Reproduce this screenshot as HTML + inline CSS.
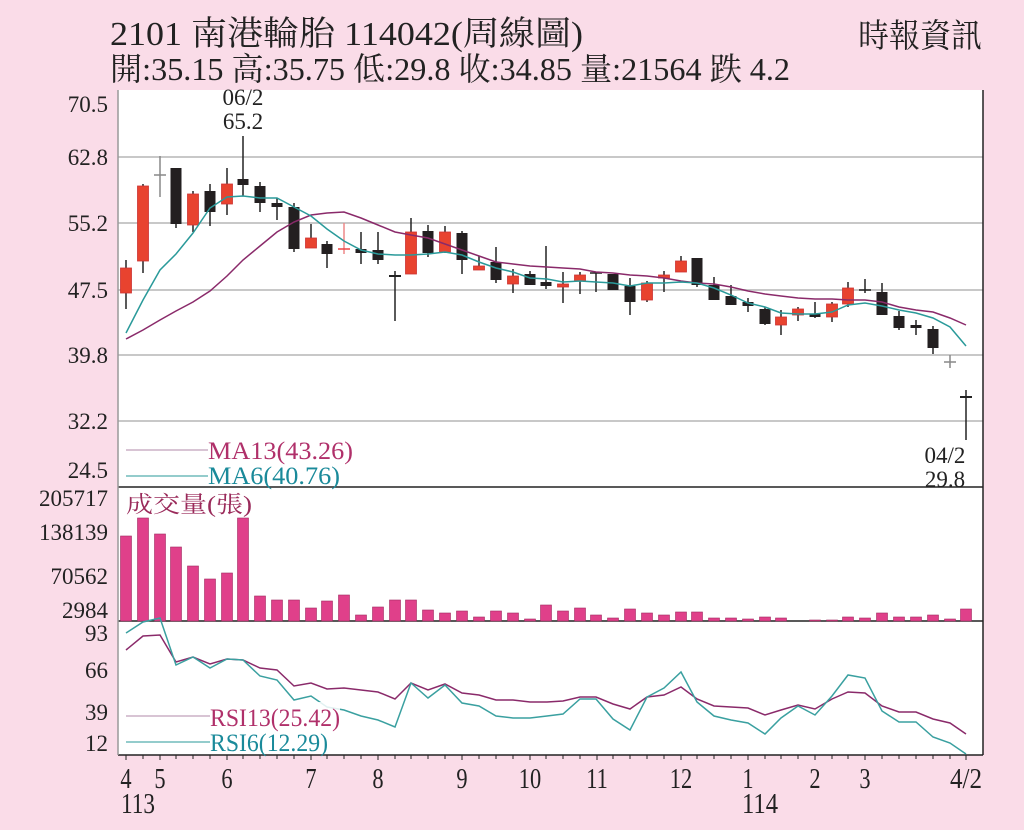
<!DOCTYPE html>
<html><head><meta charset="utf-8"><style>
html,body{margin:0;padding:0;background:#fadce8;}
svg{display:block}
text{font-family:"Liberation Serif","Noto Serif CJK TC",serif;}
</style></head><body>
<svg width="1024" height="830" viewBox="0 0 1024 830" xmlns="http://www.w3.org/2000/svg">
<rect width="1024" height="830" fill="#fadce8"/>
<text x="110" y="45" font-size="34" fill="#222" textLength="473" lengthAdjust="spacingAndGlyphs">2101  南港輪胎 114042(周線圖)</text>
<text x="110" y="80" font-size="32" fill="#222" textLength="680" lengthAdjust="spacingAndGlyphs">開:35.15 高:35.75 低:29.8 收:34.85 量:21564 跌 4.2</text>
<text x="858" y="47" font-size="33" fill="#222" textLength="124" lengthAdjust="spacingAndGlyphs">時報資訊</text>
<rect x="118" y="90" width="865" height="665" fill="#fff"/>
<g stroke="#c8c8c8" stroke-width="2">
<line x1="118" y1="157" x2="983" y2="157"/><line x1="118" y1="223" x2="983" y2="223"/><line x1="118" y1="290" x2="983" y2="290"/><line x1="118" y1="355" x2="983" y2="355"/><line x1="118" y1="421" x2="983" y2="421"/>
</g>
<g stroke="#222" stroke-width="1.5" fill="none">
<line x1="118" y1="487" x2="983" y2="487"/><line x1="118" y1="621" x2="983" y2="621"/><line x1="118" y1="755" x2="983" y2="755"/>
<line x1="983" y1="90" x2="983" y2="755"/><line x1="118" y1="90" x2="118" y2="755" stroke="#999"/>
</g>
<g font-size="23" fill="#222" text-anchor="end">
<text x="108" y="112">70.5</text><text x="108" y="165">62.8</text><text x="108" y="231">55.2</text><text x="108" y="298">47.5</text><text x="108" y="363">39.8</text><text x="108" y="429">32.2</text><text x="108" y="478">24.5</text>
<text x="108" y="506">205717</text><text x="108" y="540">138139</text><text x="108" y="584">70562</text><text x="108" y="618">2984</text>
<text x="108" y="641">93</text><text x="108" y="678">66</text><text x="108" y="720">39</text><text x="108" y="751">12</text>
</g>
<text x="243" y="105" font-size="23" fill="#222" text-anchor="middle">06/2</text>
<text x="243" y="129" font-size="23" fill="#222" text-anchor="middle">65.2</text>
<text x="945" y="463" font-size="23" fill="#222" text-anchor="middle">04/2</text>
<text x="945" y="487" font-size="23" fill="#222" text-anchor="middle">29.8</text>
<g stroke-width="1.5">
<g stroke="#222">
<line x1="126" y1="260" x2="126" y2="309"/><line x1="143" y1="184" x2="143" y2="273"/><line x1="160" y1="156" x2="160" y2="197" stroke="#888"/><line x1="176" y1="168" x2="176" y2="228"/><line x1="193" y1="191" x2="193" y2="232"/><line x1="210" y1="184" x2="210" y2="226"/><line x1="227" y1="168" x2="227" y2="215"/><line x1="243" y1="136" x2="243" y2="196"/><line x1="260" y1="182" x2="260" y2="212"/><line x1="277" y1="198" x2="277" y2="220"/><line x1="294" y1="203" x2="294" y2="252"/><line x1="311" y1="224" x2="311" y2="248"/><line x1="327" y1="241" x2="327" y2="268"/><line x1="344" y1="223" x2="344" y2="254" stroke="#e88"/><line x1="361" y1="232" x2="361" y2="264"/><line x1="378" y1="232" x2="378" y2="264"/><line x1="395" y1="271" x2="395" y2="321"/><line x1="411" y1="218" x2="411" y2="274"/><line x1="428" y1="225" x2="428" y2="257"/><line x1="445" y1="226" x2="445" y2="253"/><line x1="462" y1="231" x2="462" y2="274"/><line x1="479" y1="256" x2="479" y2="270"/><line x1="496" y1="247" x2="496" y2="283"/><line x1="513" y1="269" x2="513" y2="293"/><line x1="530" y1="271" x2="530" y2="285"/><line x1="546" y1="246" x2="546" y2="289"/><line x1="563" y1="272" x2="563" y2="303"/><line x1="580" y1="272" x2="580" y2="294"/><line x1="596" y1="273" x2="596" y2="292"/><line x1="613" y1="275" x2="613" y2="290"/><line x1="630" y1="278" x2="630" y2="315"/><line x1="647" y1="281" x2="647" y2="302"/><line x1="664" y1="271" x2="664" y2="292"/><line x1="681" y1="256" x2="681" y2="272"/><line x1="697" y1="258" x2="697" y2="287"/><line x1="714" y1="277" x2="714" y2="300"/><line x1="731" y1="285" x2="731" y2="305"/><line x1="748" y1="298" x2="748" y2="312"/><line x1="765" y1="307" x2="765" y2="325"/><line x1="781" y1="310" x2="781" y2="335"/><line x1="798" y1="307" x2="798" y2="321"/><line x1="815" y1="302" x2="815" y2="318"/><line x1="832" y1="302" x2="832" y2="322"/><line x1="848" y1="282" x2="848" y2="307"/><line x1="865" y1="279" x2="865" y2="293"/><line x1="882" y1="283" x2="882" y2="315"/><line x1="899" y1="311" x2="899" y2="330"/><line x1="916" y1="320" x2="916" y2="335"/><line x1="933" y1="326" x2="933" y2="354"/><line x1="950" y1="355" x2="950" y2="368" stroke="#888"/><line x1="966" y1="390" x2="966" y2="440"/>
<line x1="154" y1="175" x2="166" y2="175" stroke="#888"/><line x1="338" y1="249" x2="350" y2="249" stroke="#e44"/><line x1="389" y1="276" x2="401" y2="276" stroke-width="2"/><line x1="590" y1="273" x2="602" y2="273"/><line x1="859" y1="290" x2="871" y2="290"/><line x1="944" y1="362" x2="956" y2="362" stroke="#888"/><line x1="960" y1="397" x2="972" y2="397" stroke-width="2"/>
</g>
<g fill="#e8432f" stroke="#c33" stroke-width="0.8">
<rect x="120.5" y="268" width="11" height="25"/><rect x="137.5" y="186" width="11" height="75"/><rect x="187.5" y="194" width="11" height="31"/><rect x="221.5" y="184" width="11" height="20"/><rect x="305.5" y="238" width="11" height="10"/><rect x="405.5" y="232" width="11" height="42"/><rect x="439.5" y="232" width="11" height="20"/><rect x="473.5" y="266" width="11" height="4"/><rect x="507.5" y="276" width="11" height="8"/><rect x="557.5" y="284" width="11" height="3"/><rect x="574.5" y="275" width="11" height="6"/><rect x="641.5" y="283" width="11" height="17"/><rect x="658.5" y="275" width="11" height="3"/><rect x="675.5" y="261" width="11" height="11"/><rect x="775.5" y="317" width="11" height="8"/><rect x="792.5" y="309" width="11" height="6"/><rect x="826.5" y="304" width="11" height="13"/><rect x="842.5" y="288" width="11" height="16"/>
</g>
<g fill="#231f20">
<rect x="170.5" y="168" width="11" height="56"/><rect x="204.5" y="191" width="11" height="21"/><rect x="237.5" y="179" width="11" height="6"/><rect x="254.5" y="186" width="11" height="17"/><rect x="271.5" y="203" width="11" height="4"/><rect x="288.5" y="207" width="11" height="42"/><rect x="321.5" y="244" width="11" height="10"/><rect x="355.5" y="249" width="11" height="4"/><rect x="372.5" y="250" width="11" height="10"/><rect x="422.5" y="231" width="11" height="22"/><rect x="456.5" y="233" width="11" height="27"/><rect x="490.5" y="262" width="11" height="18"/><rect x="524.5" y="274" width="11" height="11"/><rect x="540.5" y="282" width="11" height="4"/><rect x="607.5" y="274" width="11" height="16"/><rect x="624.5" y="286" width="11" height="16"/><rect x="691.5" y="258" width="11" height="27"/><rect x="708.5" y="285" width="11" height="15"/><rect x="725.5" y="296" width="11" height="9"/><rect x="742.5" y="302" width="11" height="4"/><rect x="759.5" y="309" width="11" height="15"/><rect x="809.5" y="314" width="11" height="3"/><rect x="876.5" y="292" width="11" height="23"/><rect x="893.5" y="316" width="11" height="12"/><rect x="910.5" y="325" width="11" height="3"/><rect x="927.5" y="329" width="11" height="19"/>
</g>
</g>
<polyline fill="none" stroke="#8a2a6a" stroke-width="1.5" points="126,339 143,330 160,320 176,311 193,302 210,291 227,276 243,260 260,246 277,232 294,222 311,215 327,213 344,212 361,218 378,225 395,232 411,235 428,238 445,244 462,250 479,256 496,262 513,264 530,266 547,267 563,268 580,269 596,272 613,273 630,275 647,276 664,278 681,281 697,283 714,284 731,287 748,291 765,294 781,296 798,298 815,299 832,299 848,300 865,300 882,302 899,307 916,310 933,312 950,318 966,325"/>
<polyline fill="none" stroke="#2a9a9a" stroke-width="1.5" points="126,333 143,300 160,270 176,254 193,233 210,208 227,197 243,196 260,198 277,198 294,207 311,216 327,229 344,241 361,250 378,254 395,255 411,255 428,254 445,252 462,255 479,262 496,268 513,272 530,278 547,279 563,282 580,281 596,282 613,283 630,286 647,283 664,283 681,282 697,283 714,288 731,295 748,303 765,307 781,313 798,314 815,314 832,312 848,305 865,303 882,306 899,310 916,313 933,318 950,327 966,346"/>
<line x1="126" y1="450" x2="208" y2="450" stroke="#b08aa8" stroke-width="1"/>
<line x1="126" y1="476" x2="208" y2="476" stroke="#2a9a9a" stroke-width="1"/>
<text x="208" y="459" font-size="25" fill="#b0306a" textLength="145" lengthAdjust="spacingAndGlyphs">MA13(43.26)</text>
<text x="208" y="484" font-size="25" fill="#1a8a9a" textLength="132" lengthAdjust="spacingAndGlyphs">MA6(40.76)</text>
<text x="126" y="512" font-size="23" fill="#9a2a5a" textLength="126" lengthAdjust="spacingAndGlyphs">成交量(張)</text>
<g fill="#e0408a" stroke="#a02a60" stroke-width="0.6">
<rect x="120.5" y="536" width="11" height="85"/><rect x="137.5" y="518" width="11" height="103"/><rect x="154.5" y="534" width="11" height="87"/><rect x="170.5" y="547" width="11" height="74"/><rect x="187.5" y="566" width="11" height="55"/><rect x="204.5" y="579" width="11" height="42"/><rect x="221.5" y="573" width="11" height="48"/><rect x="237.5" y="518" width="11" height="103"/><rect x="254.5" y="596" width="11" height="25"/><rect x="271.5" y="600" width="11" height="21"/><rect x="288.5" y="600" width="11" height="21"/><rect x="305.5" y="608" width="11" height="13"/><rect x="321.5" y="601" width="11" height="20"/><rect x="338.5" y="595" width="11" height="26"/><rect x="355.5" y="615" width="11" height="6"/><rect x="372.5" y="607" width="11" height="14"/><rect x="389.5" y="600" width="11" height="21"/><rect x="405.5" y="600" width="11" height="21"/><rect x="422.5" y="610" width="11" height="11"/><rect x="439.5" y="613" width="11" height="8"/><rect x="456.5" y="611" width="11" height="10"/><rect x="473.5" y="617" width="11" height="4"/><rect x="490.5" y="611" width="11" height="10"/><rect x="507.5" y="613" width="11" height="8"/><rect x="524.5" y="619" width="11" height="2"/><rect x="540.5" y="605" width="11" height="16"/><rect x="557.5" y="611" width="11" height="10"/><rect x="574.5" y="608" width="11" height="13"/><rect x="590.5" y="615" width="11" height="6"/><rect x="607.5" y="618" width="11" height="3"/><rect x="624.5" y="609" width="11" height="12"/><rect x="641.5" y="613" width="11" height="8"/><rect x="658.5" y="615" width="11" height="6"/><rect x="675.5" y="612" width="11" height="9"/><rect x="691.5" y="612" width="11" height="9"/><rect x="708.5" y="618" width="11" height="3"/><rect x="725.5" y="618" width="11" height="3"/><rect x="742.5" y="619" width="11" height="2"/><rect x="759.5" y="617" width="11" height="4"/><rect x="775.5" y="618" width="11" height="3"/><rect x="809.5" y="620" width="11" height="1"/><rect x="826.5" y="620" width="11" height="1"/><rect x="842.5" y="617" width="11" height="4"/><rect x="859.5" y="618" width="11" height="3"/><rect x="876.5" y="613" width="11" height="8"/><rect x="893.5" y="617" width="11" height="4"/><rect x="910.5" y="617" width="11" height="4"/><rect x="927.5" y="615" width="11" height="6"/><rect x="944.5" y="619" width="11" height="2"/><rect x="960.5" y="609" width="11" height="12"/>
</g>
<polyline fill="none" stroke="#8a2a6a" stroke-width="1.5" points="126,650 143,636 160,635 176,662 193,657 210,664 227,659 243,660 260,668 277,670 294,686 311,683 327,689 344,688 361,690 378,692 395,699 411,683 428,690 445,684 462,693 479,695 496,700 513,700 530,702 547,702 563,701 580,697 596,697 613,704 630,709 647,697 664,695 681,687 697,699 714,706 731,707 748,708 765,715 781,710 798,705 815,709 832,699 848,692 865,693 882,706 899,712 916,712 933,719 950,723 966,734"/>
<polyline fill="none" stroke="#3aa0a0" stroke-width="1.5" points="126,633 143,622 160,618 176,665 193,657 210,668 227,659 243,660 260,676 277,680 294,700 311,696 327,707 344,710 361,716 378,720 395,727 411,683 428,698 445,685 462,703 479,706 496,716 513,718 530,718 547,716 563,714 580,699 596,699 613,719 630,730 647,697 664,688 681,672 697,702 714,716 731,720 748,723 765,734 781,718 798,706 815,715 832,696 848,675 865,678 882,711 899,722 916,722 933,737 950,743 966,754"/>
<rect x="200" y="702" width="140" height="52" fill="#fff" opacity="0.85"/>
<line x1="126" y1="716" x2="210" y2="716" stroke="#b08aa8" stroke-width="1"/>
<line x1="126" y1="742" x2="210" y2="742" stroke="#2a9a9a" stroke-width="1"/>
<text x="210" y="726" font-size="25" fill="#b0306a" textLength="130" lengthAdjust="spacingAndGlyphs">RSI13(25.42)</text>
<text x="210" y="751" font-size="25" fill="#1a8a9a" textLength="118" lengthAdjust="spacingAndGlyphs">RSI6(12.29)</text>
<g stroke="#222" stroke-width="1">
<path d="M126 755v5M143 755v4M160 755v5M176 755v4M193 755v4M210 755v4M227 755v5M243 755v4M260 755v4M277 755v4M294 755v4M311 755v5M327 755v4M344 755v4M361 755v4M378 755v5M395 755v4M411 755v4M428 755v4M445 755v4M462 755v5M479 755v4M496 755v4M513 755v4M530 755v5M546 755v4M563 755v4M580 755v4M597 755v5M613 755v4M630 755v4M647 755v4M664 755v4M681 755v5M697 755v4M714 755v4M731 755v4M748 755v5M765 755v4M781 755v4M798 755v4M815 755v5M832 755v4M848 755v4M865 755v5M882 755v4M899 755v4M916 755v4M933 755v4M950 755v4M966 755v5"/>
</g>
<g font-size="28" fill="#222" text-anchor="middle">
<text x="126" y="788" transform="translate(126 0) scale(0.8 1) translate(-126 0)">4</text>
<text x="160" y="788" transform="translate(160 0) scale(0.8 1) translate(-160 0)">5</text>
<text x="227" y="788" transform="translate(227 0) scale(0.8 1) translate(-227 0)">6</text>
<text x="311" y="788" transform="translate(311 0) scale(0.8 1) translate(-311 0)">7</text>
<text x="378" y="788" transform="translate(378 0) scale(0.8 1) translate(-378 0)">8</text>
<text x="462" y="788" transform="translate(462 0) scale(0.8 1) translate(-462 0)">9</text>
<text x="530" y="788" transform="translate(530 0) scale(0.8 1) translate(-530 0)">10</text>
<text x="597" y="788" transform="translate(597 0) scale(0.8 1) translate(-597 0)">11</text>
<text x="681" y="788" transform="translate(681 0) scale(0.8 1) translate(-681 0)">12</text>
<text x="748" y="788" transform="translate(748 0) scale(0.8 1) translate(-748 0)">1</text>
<text x="815" y="788" transform="translate(815 0) scale(0.8 1) translate(-815 0)">2</text>
<text x="865" y="788" transform="translate(865 0) scale(0.8 1) translate(-865 0)">3</text>
<text x="966" y="788" textLength="32" lengthAdjust="spacingAndGlyphs">4/2</text>
<text x="138" y="813" textLength="34" lengthAdjust="spacingAndGlyphs">113</text><text x="760" y="813" textLength="36" lengthAdjust="spacingAndGlyphs">114</text>
</g>
</svg>
</body></html>
